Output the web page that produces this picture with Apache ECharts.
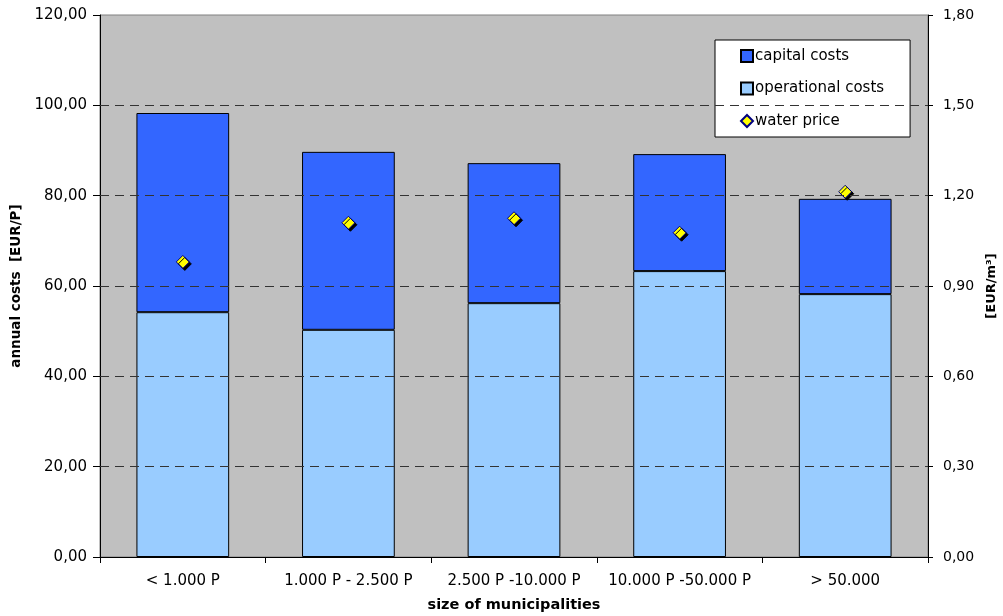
<!DOCTYPE html>
<html>
<head>
<meta charset="utf-8">
<script src="https://cdn.jsdelivr.net/npm/echarts@6/dist/echarts.min.js"></script>
<style>
  html, body { margin: 0; padding: 0; background: #ffffff; }
  #chart { width: 1003px; height: 616px; }
</style>
</head>
<body>
<div id="chart"></div>
<script>
// Municipality size classes
const categories = ['< 1.000 P', '1.000 P - 2.500 P', '2.500 P -10.000 P', '10.000 P -50.000 P', '> 50.000'];
// Annual costs per person [EUR/P]
const operationalCosts = [54.2, 50.3, 56.2, 63.3, 58.2];
const capitalCosts = [44.1, 39.4, 31.0, 25.9, 21.1];
// Water price [EUR/m³]
const waterPrice = [0.98, 1.11, 1.125, 1.077, 1.213];
// Dashed reference lines on the cost axis
const gridValues = [20, 40, 60, 80, 100];

const fmt = v => v.toFixed(2).replace('.', ',');
const fontFamily = 'DejaVu Sans, Verdana, sans-serif';

const chart = echarts.init(document.getElementById('chart'), null, { renderer: 'canvas' });

chart.setOption({
  animation: false,
  backgroundColor: '#ffffff',
  grid: {
    left: 100, right: 75, top: 15, bottom: 59,
    outerBoundsMode: 'none',
    containLabel: false,
    show: true, backgroundColor: '#c0c0c0', borderColor: '#808080', borderWidth: 1
  },
  legend: {
    orient: 'vertical',
    left: 715, top: 40,
    backgroundColor: '#ffffff',
    borderColor: '#000000', borderWidth: 1, borderRadius: 0,
    padding: [8.5, 26, 8.5, 25],
    itemWidth: 12, itemHeight: 12, itemGap: 17.5,
    textStyle: { fontFamily: fontFamily, fontSize: 15, color: '#000', padding: [0, 0, 0, -3] },
    data: [
      { name: 'capital costs', icon: 'rect' },
      { name: 'operational costs', icon: 'rect' },
      { name: 'water price', icon: 'diamond',
        itemStyle: { shadowColor: 'rgba(0,0,0,0)', shadowOffsetX: 0, shadowOffsetY: 0 } }
    ]
  },
  xAxis: {
    type: 'category',
    data: categories,
    boundaryGap: true,
    axisLine: { lineStyle: { color: '#000', width: 1 } },
    axisTick: { show: true, interval: 0, length: 6, inside: false, lineStyle: { color: '#000' } },
    axisLabel: { interval: 0, hideOverlap: false, margin: 17, fontFamily: fontFamily, fontSize: 15, color: '#000' },
    name: 'size of municipalities',
    nameLocation: 'middle',
    nameGap: 41,
    nameTextStyle: { fontFamily: fontFamily, fontSize: 14.5, fontWeight: 'bold', color: '#000' }
  },
  yAxis: [
    {
      type: 'value', min: 0, max: 120, interval: 20, position: 'left',
      axisLine: { show: true, lineStyle: { color: '#000', width: 1 } },
      axisTick: { show: true, length: 7, lineStyle: { color: '#000' } },
      axisLabel: { margin: 13, formatter: fmt, fontFamily: fontFamily, fontSize: 15, color: '#000' },
      splitLine: { show: false },
      name: 'annual costs  [EUR/P]',
      nameLocation: 'middle',
      nameGap: 76,
      nameRotate: 90,
      nameTextStyle: { fontFamily: fontFamily, fontSize: 13.5, fontWeight: 'bold', color: '#000' }
    },
    {
      type: 'value', min: 0, max: 1.8, interval: 0.3, position: 'right',
      axisLine: { show: true, lineStyle: { color: '#000', width: 1 } },
      axisTick: { show: true, length: 5, lineStyle: { color: '#000' } },
      axisLabel: { margin: 15, formatter: fmt, fontFamily: fontFamily, fontSize: 14, color: '#000' },
      splitLine: { show: false },
      name: '[EUR/m³]',
      nameLocation: 'middle',
      nameGap: 56,
      nameRotate: 90,
      nameTextStyle: { fontFamily: fontFamily, fontSize: 13, fontWeight: 'bold', color: '#000' }
    }
  ],
  series: [
    {
      // carries only the dashed gridlines, drawn beneath the bars
      name: 'grid',
      type: 'line',
      data: [],
      yAxisIndex: 0,
      z: 1,
      silent: true,
      markLine: {
        silent: true,
        symbol: ['none', 'none'],
        label: { show: false },
        lineStyle: { color: '#333333', type: [9, 6], width: 1 },
        data: gridValues.map(v => ({ yAxis: v }))
      }
    },
    {
      name: 'operational costs',
      type: 'bar',
      stack: 'costs',
      yAxisIndex: 0,
      barWidth: '56%',
      z: 2,
      itemStyle: { color: '#99ccff', borderColor: '#000', borderWidth: 1 },
      data: operationalCosts
    },
    {
      name: 'capital costs',
      type: 'bar',
      stack: 'costs',
      yAxisIndex: 0,
      barWidth: '56%',
      z: 2,
      itemStyle: { color: '#3366ff', borderColor: '#000', borderWidth: 1 },
      data: capitalCosts
    },
    {
      name: 'water price',
      type: 'scatter',
      yAxisIndex: 1,
      symbol: 'diamond',
      symbolSize: 13,
      z: 3,
      itemStyle: {
        color: '#ffff00', borderColor: '#000080', borderWidth: 1,
        shadowColor: '#000000', shadowBlur: 0, shadowOffsetX: 2, shadowOffsetY: 2, opacity: 1
      },
      data: waterPrice
    }
  ]
});
</script>
</body>
</html>
